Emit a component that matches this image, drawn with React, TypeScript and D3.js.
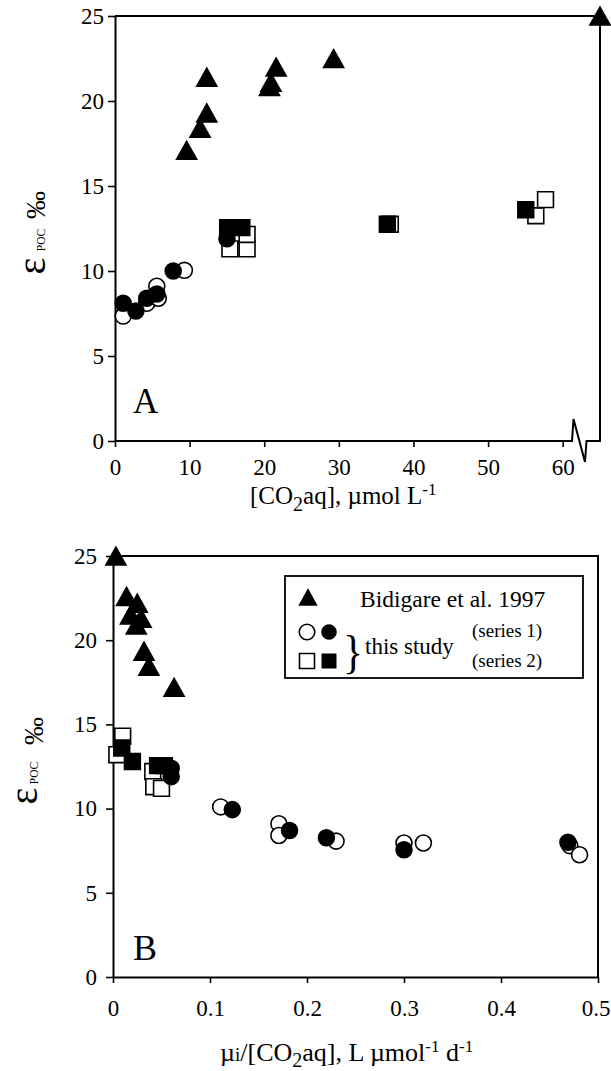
import React, { useEffect, useRef } from 'react';
import * as d3 from 'd3';

// Panel A: epsilon POC vs [CO2aq]
const bidigareCO2 = [9.6, 11.4, 12.3, 12.3, 20.7, 20.9, 21.6, 29.3, 65];
const bidigareEpsA = [17.1, 18.4, 19.3, 21.4, 20.85, 21.1, 22.0, 22.5, 25];
const s1OpenCO2 = [1.1, 4.25, 5.6, 5.8, 9.3];
const s1OpenEpsA = [7.35, 8.1, 9.1, 8.4, 10.04];
const s1FillCO2 = [1.1, 2.8, 4.25, 5.6, 7.8, 15];
const s1FillEpsA = [8.1, 7.65, 8.4, 8.65, 10.0, 11.9];
const s2OpenCO2 = [15.4, 17.7, 17.7, 36.9, 56.4, 57.7];
const s2OpenEpsA = [11.3, 11.3, 12.15, 12.75, 13.25, 14.2];
const s2FillCO2 = [15.1, 17, 36.5, 55.05];
const s2FillEpsA = [12.55, 12.55, 12.75, 13.6];

// Panel B: epsilon POC vs mu/[CO2aq]
const bidigareMu = [0.063, 0.037, 0.032, 0.018, 0.024, 0.029, 0.025, 0.014, 0.003];
const bidigareEpsB = [17.2, 18.45, 19.35, 21.5, 20.9, 21.3, 22.2, 22.6, 25];
const s1OpenMu = [0.111, 0.171, 0.171, 0.23, 0.3, 0.32, 0.471, 0.481];
const s1OpenEpsB = [10.1, 9.1, 8.4, 8.07, 7.96, 7.96, 7.8, 7.26];
const s1FillMu = [0.06, 0.06, 0.123, 0.182, 0.22, 0.3, 0.469];
const s1FillEpsB = [12.4, 11.9, 9.94, 8.7, 8.27, 7.56, 8.0];
const s2OpenMu = [0.01, 0.004, 0.041, 0.042, 0.05];
const s2OpenEpsB = [14.3, 13.2, 12.2, 11.3, 11.2];
const s2FillMu = [0.009, 0.02, 0.046, 0.053];
const s2FillEpsB = [13.6, 12.8, 12.55, 12.55];

const co2Ticks = [0, 10, 20, 30, 40, 50, 60];
const muTicks = [0, 0.1, 0.2, 0.3, 0.4, 0.5];
const epsTicks = [0, 5, 10, 15, 20, 25];

const FONT = '"Times New Roman", "Liberation Serif", serif';

// triangle a bit wider than equilateral, centred on its box
const triangle = {
  draw(ctx: any, size: number) {
    const h = Math.sqrt(size);
    const w = h * 1.12;
    ctx.moveTo(0, -h / 2);
    ctx.lineTo(w / 2, h / 2);
    ctx.lineTo(-w / 2, h / 2);
    ctx.closePath();
  },
};

const zip = (xs: number[], ys: number[]) => xs.map((x, i) => [x, ys[i]]);

export default function App() {
  const ref = useRef<SVGSVGElement>(null);

  useEffect(() => {
    const svg = d3.select(ref.current);
    svg.selectAll('*').remove();

    const drawPoints = (g: any, pts: number[][], x: any, y: any, type: any, size: number, filled: boolean) => {
      g.append('g')
        .selectAll('path')
        .data(pts)
        .enter()
        .append('path')
        .attr('transform', (d: number[]) => 'translate(' + x(d[0]) + ',' + y(d[1]) + ')')
        .attr('d', d3.symbol().type(type).size(size)())
        .attr('fill', filled ? '#000' : '#fff')
        .attr('stroke', '#000')
        .attr('stroke-width', 1.6);
    };

    const yAxisLabel = (bx: number, epsY: number, pocBx: number, pocY: number, permBx: number, permY: number) => {
      svg.append('text')
        .attr('transform', 'translate(' + bx + ',' + epsY + ') rotate(-90)')
        .attr('text-anchor', 'middle')
        .style('font-family', FONT)
        .attr('font-size', 40)
        .text('ε');
      svg.append('text')
        .attr('transform', 'translate(' + pocBx + ',' + pocY + ') rotate(-90)')
        .attr('text-anchor', 'middle')
        .style('font-family', FONT)
        .attr('font-size', 11.5)
        .text('POC');
      svg.append('text')
        .attr('transform', 'translate(' + permBx + ',' + permY + ') rotate(-90)')
        .attr('text-anchor', 'middle')
        .style('font-family', FONT)
        .attr('font-size', 28)
        .text('‰');
    };

    // ---------- panel A ----------
    const xA = d3.scaleLinear().domain([0, 65]).range([115, 600]);
    const yA = d3.scaleLinear().domain([0, 25]).range([441, 16]);
    const gA = svg.append('g');

    gA.append('g')
      .attr('transform', 'translate(' + xA(0) + ',0)')
      .call(d3.axisLeft(yA).tickValues(epsTicks).tickSize(7).tickSizeOuter(0).tickPadding(4))
      .call((g: any) => g.select('.domain').attr('stroke-width', 2));
    gA.append('g')
      .attr('transform', 'translate(0,' + yA(0) + ')')
      .call(d3.axisBottom(xA).tickValues(co2Ticks).tickSize(6).tickPadding(12))
      .call((g: any) => g.select('.domain').remove());
    gA.selectAll('.tick line').attr('stroke-width', 1.6);
    gA.selectAll('.tick text').style('font-family', FONT).attr('font-size', 23).attr('fill', '#000');

    // broken baseline + frame
    const y0 = yA(0);
    gA.append('path')
      .attr('d', d3.line()([
        [xA(0), y0], [572, y0], [573.5, 419], [585, 462], [586.5, y0], [xA(65), y0], [xA(65), yA(25)], [xA(0), yA(25)],
      ]))
      .attr('fill', 'none')
      .attr('stroke', '#000')
      .attr('stroke-width', 2);

    drawPoints(gA, zip(s2OpenCO2, s2OpenEpsA), xA, yA, d3.symbolSquare, 250, false);
    drawPoints(gA, zip(s1OpenCO2, s1OpenEpsA), xA, yA, d3.symbolCircle, 200, false);
    drawPoints(gA, zip(s2FillCO2, s2FillEpsA), xA, yA, d3.symbolSquare, 250, true);
    drawPoints(gA, zip(s1FillCO2, s1FillEpsA), xA, yA, d3.symbolCircle, 200, true);
    drawPoints(gA, zip(bidigareCO2, bidigareEpsA), xA, yA, triangle, 320, true);

    gA.append('text')
      .attr('x', 133).attr('y', 413)
      .style('font-family', FONT).attr('font-size', 35)
      .text('A');

    const xlabA = gA.append('text')
      .attr('x', 250).attr('y', 504)
      .style('font-family', FONT).attr('font-size', 25);
    xlabA.append('tspan').text('[CO');
    xlabA.append('tspan').attr('font-size', 20).attr('dy', 7).text('2');
    xlabA.append('tspan').attr('dy', -7).text('aq], µmol L');
    xlabA.append('tspan').attr('font-size', 17).attr('dy', -9).text('-1');

    yAxisLabel(45, 266, 45, 240, 45, 205);

    // ---------- panel B ----------
    const xB = d3.scaleLinear().domain([0, 0.5]).range([113, 598]);
    const yB = d3.scaleLinear().domain([0, 25]).range([977, 556]);
    const gB = svg.append('g');

    gB.append('g')
      .attr('transform', 'translate(' + xB(0) + ',0)')
      .call(d3.axisLeft(yB).tickValues(epsTicks).tickSize(7).tickSizeOuter(0).tickPadding(9))
      .call((g: any) => g.select('.domain').attr('stroke-width', 2));
    gB.append('g')
      .attr('transform', 'translate(0,' + yB(0) + ')')
      .call(d3.axisBottom(xB).tickValues(muTicks).tickFormat(d3.format('~g')).tickSize(6).tickSizeOuter(0).tickPadding(17))
      .call((g: any) => g.select('.domain').attr('stroke-width', 2))
      .call((g: any) => g.selectAll('.tick:last-of-type text').attr('text-anchor', 'end').attr('dx', 12));
    gB.selectAll('.tick line').attr('stroke-width', 1.6);
    gB.selectAll('.tick text').style('font-family', FONT).attr('font-size', 23).attr('fill', '#000');

    gB.append('path')
      .attr('d', d3.line()([[xB(0), yB(25)], [xB(0.5), yB(25)], [xB(0.5), yB(0)]]))
      .attr('fill', 'none')
      .attr('stroke', '#000')
      .attr('stroke-width', 2);

    drawPoints(gB, zip(s2OpenMu, s2OpenEpsB), xB, yB, d3.symbolSquare, 250, false);
    drawPoints(gB, zip(s1OpenMu, s1OpenEpsB), xB, yB, d3.symbolCircle, 200, false);
    drawPoints(gB, zip(s2FillMu, s2FillEpsB), xB, yB, d3.symbolSquare, 250, true);
    drawPoints(gB, zip(s1FillMu, s1FillEpsB), xB, yB, d3.symbolCircle, 200, true);
    drawPoints(gB, zip(bidigareMu, bidigareEpsB), xB, yB, triangle, 320, true);

    gB.append('text')
      .attr('x', 133).attr('y', 960)
      .style('font-family', FONT).attr('font-size', 36)
      .text('B');

    // legend
    const lg = gB.append('g');
    lg.append('rect')
      .attr('x', 285).attr('y', 576).attr('width', 298).attr('height', 102)
      .attr('fill', '#fff').attr('stroke', '#000').attr('stroke-width', 1.8);
    lg.append('path')
      .attr('transform', 'translate(308,597)')
      .attr('d', d3.symbol().type(triangle).size(300)())
      .attr('fill', '#000');
    lg.append('path').attr('transform', 'translate(307,632)')
      .attr('d', d3.symbol().type(d3.symbolCircle).size(190)())
      .attr('fill', '#fff').attr('stroke', '#000').attr('stroke-width', 1.6);
    lg.append('path').attr('transform', 'translate(329,632)')
      .attr('d', d3.symbol().type(d3.symbolCircle).size(190)())
      .attr('fill', '#000');
    lg.append('path').attr('transform', 'translate(307,661)')
      .attr('d', d3.symbol().type(d3.symbolSquare).size(225)())
      .attr('fill', '#fff').attr('stroke', '#000').attr('stroke-width', 1.6);
    lg.append('path').attr('transform', 'translate(329,661)')
      .attr('d', d3.symbol().type(d3.symbolSquare).size(225)())
      .attr('fill', '#000');
    lg.append('text').attr('x', 360).attr('y', 607)
      .style('font-family', FONT).attr('font-size', 23.5).text('Bidigare et al. 1997');
    lg.append('text').attr('x', 343).attr('y', 662)
      .style('font-family', FONT).attr('font-size', 42).attr('transform', 'translate(0,-60) scale(1,1.1)').text('}');
    lg.append('text').attr('x', 365).attr('y', 654)
      .style('font-family', FONT).attr('font-size', 23).text('this study');
    lg.append('text').attr('x', 472).attr('y', 637)
      .style('font-family', FONT).attr('font-size', 19).text('(series 1)');
    lg.append('text').attr('x', 472).attr('y', 667)
      .style('font-family', FONT).attr('font-size', 19).text('(series 2)');

    const xlabB = gB.append('text')
      .attr('x', 220).attr('y', 1061)
      .style('font-family', FONT).attr('font-size', 26);
    xlabB.append('tspan').text('µ');
    xlabB.append('tspan').attr('font-size', 19).text('i');
    xlabB.append('tspan').text('/[CO');
    xlabB.append('tspan').attr('font-size', 20).attr('dy', 6).text('2');
    xlabB.append('tspan').attr('dy', -6).text('aq], L µmol');
    xlabB.append('tspan').attr('font-size', 17).attr('dy', -9).text('-1');
    xlabB.append('tspan').attr('dy', 9).text(' d');
    xlabB.append('tspan').attr('font-size', 17).attr('dy', -9).text('-1');

    yAxisLabel(37, 796, 38, 773, 43, 731);
  }, []);

  return (
    <svg
      ref={ref}
      width={611}
      height={1071}
      style={{ position: 'absolute', left: 0, top: 0, background: '#fff' }}
    />
  );
}
